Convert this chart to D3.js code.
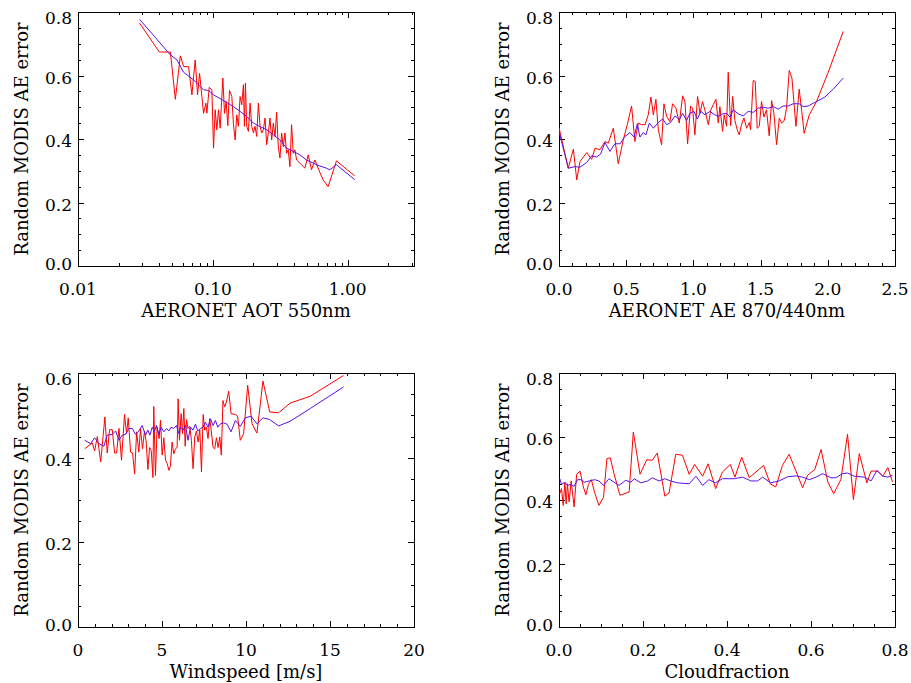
<!DOCTYPE html>
<html><head><meta charset="utf-8">
<script src="https://cdn.jsdelivr.net/npm/d3@7"></script>
<style>body{margin:0;background:#fff}svg{display:block}text{font-family:"DejaVu Serif",serif;fill:#000}</style>
</head><body><svg id="c" width="911" height="683"></svg>
<script>
// ---------- Panel 1: AERONET AOT 550nm (log x) ----------
const aotRedX = [0.0286,0.0401,0.0484,0.0527,0.0574,0.0607,0.0661,0.0699,0.0740,0.0770,0.0797,0.0829,0.0853,0.0888,0.0903,0.0940,0.0983,0.1011,0.1040,0.1070,0.1101,0.1133,0.1186,0.1220,0.1255,0.1291,0.1328,0.1382,0.1422,0.1462,0.1504,0.1548,0.1592,0.1638,0.1685,0.1714,0.1743,0.1783,0.1835,0.1888,0.1942,0.1998,0.2055,0.2114,0.2175,0.2238,0.2302,0.2368,0.2436,0.2506,0.2578,0.2652,0.2729,0.2807,0.2888,0.2971,0.3056,0.3144,0.3235,0.3328,0.3423,0.3522,0.3623,0.3727,0.3834,0.3946,0.4059,0.4176,0.4419,0.4812,0.5093,0.5390,0.5705,0.6211,0.6573,0.7157,0.8247,1.126];
const aotRedY = [0.765,0.674,0.674,0.525,0.662,0.628,0.628,0.539,0.649,0.539,0.607,0.534,0.481,0.513,0.481,0.563,0.555,0.371,0.492,0.429,0.492,0.434,0.592,0.481,0.518,0.442,0.553,0.534,0.445,0.397,0.476,0.440,0.534,0.508,0.571,0.440,0.576,0.440,0.424,0.513,0.440,0.419,0.440,0.408,0.513,0.440,0.419,0.429,0.466,0.382,0.419,0.466,0.397,0.450,0.408,0.484,0.376,0.340,0.419,0.376,0.419,0.355,0.366,0.313,0.445,0.355,0.366,0.334,0.324,0.308,0.350,0.303,0.334,0.295,0.271,0.250,0.331,0.284];
const aotBlueX = [0.0286,0.0484,0.0542,0.0607,0.0720,0.0853,0.0929,0.1011,0.1133,0.1269,0.1422,0.1592,0.1783,0.1998,0.2238,0.2506,0.2807,0.3144,0.3522,0.3946,0.4419,0.4950,0.5544,0.6211,0.6958,0.7362,0.8247,1.126];
const aotBlueY = [0.777,0.665,0.649,0.610,0.586,0.555,0.553,0.539,0.527,0.515,0.502,0.487,0.471,0.450,0.439,0.429,0.413,0.397,0.371,0.361,0.350,0.334,0.324,0.315,0.308,0.303,0.319,0.272];

// ---------- Panel 2: AERONET AE 870/440nm ----------
const aeRedX = [0,0.069,0.107,0.132,0.156,0.206,0.243,0.268,0.305,0.342,0.367,0.404,0.441,0.478,0.508,0.540,0.565,0.590,0.615,0.640,0.664,0.684,0.702,0.721,0.739,0.763,0.781,0.801,0.825,0.845,0.870,0.895,0.920,0.937,0.957,0.979,0.994,1.011,1.031,1.049,1.068,1.086,1.111,1.130,1.148,1.168,1.185,1.197,1.217,1.229,1.247,1.259,1.277,1.292,1.309,1.326,1.341,1.358,1.376,1.396,1.416,1.425,1.445,1.460,1.475,1.490,1.507,1.525,1.544,1.564,1.582,1.599,1.619,1.639,1.656,1.676,1.693,1.713,1.733,1.763,1.787,1.805,1.824,1.862,1.916,2.003,2.115];
const aeRedY = [0.436,0.308,0.368,0.271,0.329,0.357,0.336,0.371,0.366,0.392,0.387,0.434,0.322,0.397,0.445,0.504,0.392,0.450,0.445,0.445,0.476,0.532,0.476,0.525,0.429,0.382,0.511,0.471,0.455,0.511,0.497,0.450,0.536,0.518,0.385,0.504,0.497,0.413,0.534,0.481,0.518,0.490,0.445,0.492,0.508,0.525,0.450,0.502,0.424,0.476,0.440,0.610,0.442,0.534,0.458,0.429,0.413,0.445,0.466,0.434,0.452,0.429,0.584,0.581,0.434,0.440,0.518,0.469,0.492,0.410,0.521,0.481,0.382,0.466,0.450,0.458,0.497,0.616,0.592,0.440,0.557,0.492,0.418,0.476,0.518,0.610,0.739];
const aeBlueX = [0,0.069,0.119,0.156,0.206,0.243,0.280,0.310,0.342,0.379,0.416,0.454,0.491,0.528,0.558,0.583,0.602,0.627,0.647,0.672,0.702,0.739,0.771,0.801,0.830,0.863,0.895,0.920,0.949,0.974,1.004,1.029,1.056,1.086,1.123,1.160,1.185,1.217,1.247,1.272,1.297,1.334,1.371,1.408,1.445,1.482,1.520,1.557,1.594,1.631,1.668,1.705,1.743,1.787,1.817,1.854,1.916,1.978,2.040,2.115];
const aeBlueY = [0.424,0.308,0.313,0.311,0.326,0.347,0.343,0.353,0.389,0.361,0.385,0.385,0.408,0.420,0.406,0.448,0.406,0.420,0.413,0.450,0.434,0.452,0.463,0.445,0.452,0.473,0.461,0.481,0.458,0.481,0.487,0.463,0.487,0.476,0.487,0.476,0.471,0.479,0.481,0.469,0.492,0.479,0.473,0.487,0.484,0.497,0.500,0.497,0.502,0.494,0.504,0.504,0.511,0.511,0.502,0.504,0.518,0.532,0.557,0.592];

// ---------- Panel 3: Windspeed [m/s] ----------
const wsRedX = [0.40,0.85,0.99,1.15,1.35,1.50,1.60,1.74,1.88,2.04,2.18,2.30,2.44,2.59,2.77,2.89,2.99,3.13,3.25,3.37,3.49,3.62,3.72,3.84,3.96,4.06,4.16,4.26,4.36,4.46,4.51,4.61,4.71,4.83,4.91,5.01,5.11,5.21,5.31,5.41,5.50,5.60,5.70,5.80,5.90,5.96,6.04,6.14,6.22,6.30,6.38,6.46,6.55,6.65,6.75,6.85,6.95,7.05,7.15,7.25,7.35,7.45,7.54,7.64,7.74,7.84,7.94,8.04,8.14,8.24,8.34,8.44,8.53,8.63,8.73,8.83,8.97,9.11,9.37,9.50,9.66,9.86,10.10,10.36,10.65,11.01,11.41,11.94,12.63,13.82,15.80];
const wsRedY = [0.421,0.435,0.416,0.450,0.390,0.453,0.496,0.411,0.466,0.466,0.411,0.411,0.469,0.394,0.502,0.457,0.494,0.413,0.411,0.362,0.461,0.413,0.469,0.421,0.463,0.437,0.372,0.424,0.417,0.353,0.521,0.358,0.472,0.445,0.488,0.406,0.447,0.394,0.386,0.370,0.380,0.437,0.409,0.421,0.424,0.539,0.441,0.504,0.457,0.516,0.427,0.490,0.469,0.474,0.441,0.374,0.449,0.463,0.437,0.466,0.366,0.502,0.465,0.472,0.445,0.492,0.461,0.424,0.421,0.447,0.424,0.449,0.406,0.535,0.520,0.531,0.557,0.504,0.502,0.498,0.441,0.457,0.571,0.480,0.458,0.581,0.508,0.506,0.529,0.545,0.594];
const wsBlueX = [0.40,0.75,0.99,1.25,1.54,1.74,2.04,2.24,2.44,2.63,2.83,3.03,3.23,3.43,3.62,3.82,4.02,4.16,4.28,4.42,4.55,4.67,4.81,4.95,5.11,5.27,5.41,5.54,5.70,5.86,6.00,6.10,6.26,6.40,6.55,6.69,6.85,6.99,7.13,7.29,7.45,7.58,7.74,7.88,8.04,8.18,8.32,8.48,8.67,8.87,9.11,9.37,9.66,9.96,10.30,10.65,11.01,11.41,11.94,12.63,13.82,15.80];
const wsBlueY = [0.441,0.433,0.447,0.433,0.427,0.453,0.455,0.463,0.441,0.453,0.455,0.469,0.469,0.455,0.463,0.476,0.453,0.465,0.453,0.472,0.461,0.476,0.455,0.472,0.461,0.469,0.463,0.472,0.469,0.476,0.457,0.472,0.465,0.476,0.441,0.472,0.465,0.479,0.463,0.469,0.472,0.484,0.472,0.492,0.476,0.488,0.472,0.480,0.482,0.479,0.461,0.488,0.474,0.494,0.498,0.480,0.494,0.490,0.475,0.486,0.516,0.567];

// ---------- Panel 4: Cloudfraction ----------
const cfRedX = [0.002,0.006,0.010,0.014,0.017,0.020,0.024,0.029,0.036,0.042,0.050,0.058,0.064,0.070,0.077,0.085,0.095,0.106,0.114,0.122,0.131,0.145,0.167,0.177,0.193,0.209,0.222,0.234,0.252,0.262,0.278,0.294,0.310,0.323,0.342,0.355,0.373,0.389,0.408,0.419,0.435,0.453,0.487,0.503,0.516,0.532,0.548,0.580,0.592,0.609,0.624,0.640,0.654,0.671,0.687,0.701,0.715,0.733,0.743,0.759,0.771,0.783,0.794];
const cfRedY = [0.420,0.436,0.383,0.456,0.388,0.451,0.394,0.460,0.378,0.481,0.491,0.441,0.416,0.449,0.464,0.423,0.383,0.409,0.530,0.533,0.483,0.415,0.425,0.614,0.481,0.527,0.525,0.548,0.412,0.422,0.544,0.541,0.481,0.512,0.475,0.514,0.436,0.488,0.512,0.472,0.535,0.470,0.509,0.451,0.441,0.509,0.544,0.439,0.478,0.496,0.559,0.457,0.420,0.464,0.607,0.401,0.546,0.454,0.491,0.491,0.475,0.502,0.457];
const cfBlueX = [0.002,0.006,0.014,0.020,0.028,0.036,0.044,0.052,0.060,0.072,0.085,0.095,0.106,0.119,0.131,0.143,0.159,0.171,0.179,0.195,0.211,0.222,0.238,0.252,0.266,0.282,0.310,0.326,0.342,0.357,0.373,0.389,0.417,0.437,0.457,0.473,0.485,0.504,0.524,0.544,0.564,0.580,0.596,0.612,0.628,0.647,0.659,0.675,0.687,0.703,0.727,0.743,0.757,0.771,0.783,0.794];
const cfBlueY = [0.467,0.449,0.456,0.446,0.449,0.443,0.464,0.464,0.456,0.460,0.464,0.460,0.446,0.467,0.456,0.446,0.462,0.456,0.467,0.454,0.460,0.470,0.460,0.467,0.460,0.454,0.451,0.475,0.446,0.464,0.454,0.467,0.467,0.472,0.460,0.460,0.472,0.454,0.460,0.473,0.476,0.472,0.464,0.472,0.483,0.470,0.470,0.483,0.485,0.475,0.472,0.460,0.493,0.475,0.472,0.478];

// ---------- Axis settings / tick labels ----------
const yTitle = "Random MODIS AE error";
const xTitles = ["AERONET AOT 550nm","AERONET AE 870/440nm","Windspeed [m/s]","Cloudfraction"];
const xTickLabels = [["0.01","0.10","1.00"],["0.0","0.5","1.0","1.5","2.0","2.5"],["0","5","10","15","20"],["0.0","0.2","0.4","0.6","0.8"]];
const yTickLabels = [["0.0","0.2","0.4","0.6","0.8"],["0.0","0.2","0.4","0.6","0.8"],["0.0","0.2","0.4","0.6"],["0.0","0.2","0.4","0.6","0.8"]];

const RED = "#ff0000", BLUE = "#5a10e6";
const svg = d3.select("#c");

const panels = [
  {x0:78,x1:414,y0:12,y1:266, xlog:true, xdom:[0.01,3.1], xmaj:[0.01,0.1,1], ydom:[0,0.8], ymaj:0.2, ymin:0.05,
   rx:aotRedX, ry:aotRedY, bx:aotBlueX, by:aotBlueY},
  {x0:559,x1:895,y0:12,y1:266, xdom:[0,2.5], xmajStep:0.5, xminStep:0.1, ydom:[0,0.8], ymaj:0.2, ymin:0.05,
   rx:aeRedX, ry:aeRedY, bx:aeBlueX, by:aeBlueY},
  {x0:78,x1:414,y0:373,y1:627, xdom:[0,20], xmajStep:5, xminStep:1, ydom:[0,0.6], ymaj:0.2, ymin:0.05,
   rx:wsRedX, ry:wsRedY, bx:wsBlueX, by:wsBlueY},
  {x0:559,x1:895,y0:373,y1:627, xdom:[0,0.8], xmajStep:0.2, xminStep:0.05, ydom:[0,0.8], ymaj:0.2, ymin:0.05,
   rx:cfRedX, ry:cfRedY, bx:cfBlueX, by:cfBlueY}
];

const FS = 17;
function range(a,b,s){const r=[];const n=Math.round((b-a)/s);for(let i=0;i<=n;i++)r.push(+(a+i*s).toFixed(6));return r;}

panels.forEach((p,i)=>{
  const x = p.xlog ? d3.scaleLog().domain(p.xdom).range([p.x0,p.x1]) : d3.scaleLinear().domain(p.xdom).range([p.x0,p.x1]);
  const y = d3.scaleLinear().domain(p.ydom).range([p.y1,p.y0]);
  const g = svg.append("g");
  let xMajor, xMinor;
  if (p.xlog){
    xMajor = p.xmaj;
    xMinor = [];
    [0.01,0.1,1].forEach(d=>{for(let k=2;k<=9;k++){const v=d*k; if(v<=p.xdom[1]) xMinor.push(v);}});
  } else {
    xMajor = range(p.xdom[0],p.xdom[1],p.xmajStep);
    xMinor = range(p.xdom[0],p.xdom[1],p.xminStep);
  }
  const yMajor = range(p.ydom[0],p.ydom[1],p.ymaj);
  const yMinor = range(p.ydom[0],p.ydom[1],p.ymin);
  const tk = g.append("g").attr("stroke","#000").attr("stroke-width",1).attr("shape-rendering","crispEdges");
  const MJ=6, MN=3;
  xMinor.forEach(v=>{const X=Math.round(x(v))+0.5;
    tk.append("line").attr("x1",X).attr("x2",X).attr("y1",p.y1).attr("y2",p.y1-MN);
    tk.append("line").attr("x1",X).attr("x2",X).attr("y1",p.y0).attr("y2",p.y0+MN);});
  xMajor.forEach(v=>{const X=Math.round(x(v))+0.5;
    tk.append("line").attr("x1",X).attr("x2",X).attr("y1",p.y1).attr("y2",p.y1-MJ);
    tk.append("line").attr("x1",X).attr("x2",X).attr("y1",p.y0).attr("y2",p.y0+MJ);});
  yMinor.forEach(v=>{const Y=Math.round(y(v))+0.5;
    tk.append("line").attr("y1",Y).attr("y2",Y).attr("x1",p.x0).attr("x2",p.x0+MN);
    tk.append("line").attr("y1",Y).attr("y2",Y).attr("x1",p.x1).attr("x2",p.x1-MN);});
  yMajor.forEach(v=>{const Y=Math.round(y(v))+0.5;
    tk.append("line").attr("y1",Y).attr("y2",Y).attr("x1",p.x0).attr("x2",p.x0+MJ);
    tk.append("line").attr("y1",Y).attr("y2",Y).attr("x1",p.x1).attr("x2",p.x1-MJ);});
  g.append("rect").attr("x",p.x0+0.5).attr("y",p.y0+0.5).attr("width",p.x1-p.x0).attr("height",p.y1-p.y0)
    .attr("fill","none").attr("stroke","#000").attr("stroke-width",1).attr("shape-rendering","crispEdges");
  const clip = "clip"+i;
  svg.append("clipPath").attr("id",clip).append("rect").attr("x",p.x0).attr("y",p.y0).attr("width",p.x1-p.x0).attr("height",p.y1-p.y0);
  const line = d3.line().x(d=>x(d[0])).y(d=>y(d[1]));
  g.append("path").attr("clip-path",`url(#${clip})`).datum(p.rx.map((v,k)=>[v,p.ry[k]])).attr("d",line).attr("fill","none").attr("stroke",RED).attr("stroke-width",1);
  g.append("path").attr("clip-path",`url(#${clip})`).datum(p.bx.map((v,k)=>[v,p.by[k]])).attr("d",line).attr("fill","none").attr("stroke",BLUE).attr("stroke-width",1);
  const xl = xTickLabels[i];
  xMajor.forEach((v,k)=>{
    g.append("text").attr("x",x(v)).attr("y",p.y1+29).attr("text-anchor","middle").attr("font-size",FS).text(xl[k]);
  });
  const yl = yTickLabels[i];
  yMajor.forEach((v,k)=>{
    let off = 8;
    if (k===yMajor.length-1) off = 12;
    if (k===0) off = 4;
    g.append("text").attr("x",p.x0-6).attr("y",y(v)+off).attr("text-anchor","end").attr("font-size",FS).text(yl[k]);
  });
  g.append("text").attr("x",(p.x0+p.x1)/2).attr("y",p.y1+51).attr("text-anchor","middle").attr("font-size",FS+1).text(xTitles[i]);
  const cy=(p.y0+p.y1)/2, cx=p.x0-50;
  g.append("text").attr("transform",`translate(${cx},${cy}) rotate(-90)`).attr("text-anchor","middle").attr("font-size",FS+1).text(yTitle);
});
</script></body></html>
